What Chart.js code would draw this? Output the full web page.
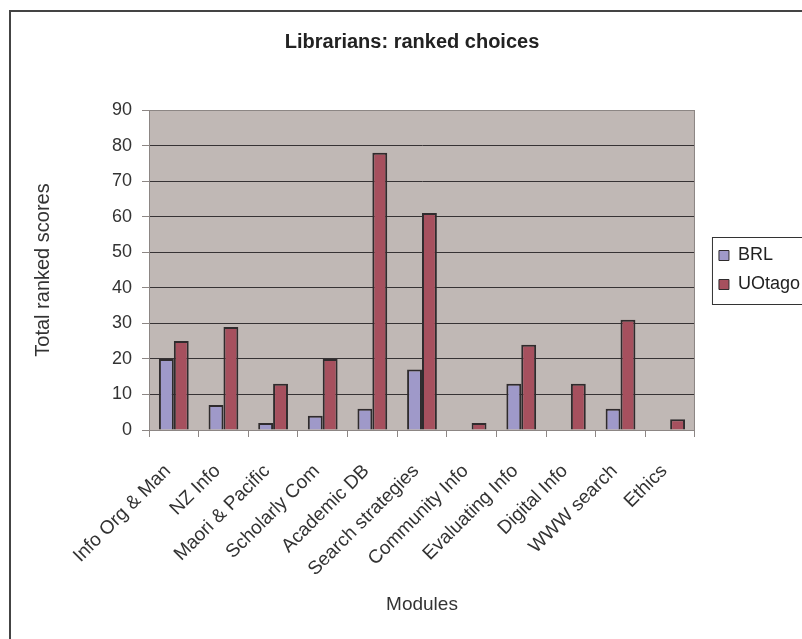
<!DOCTYPE html>
<html>
<head>
<meta charset="utf-8">
<title>Librarians: ranked choices</title>
<script src="https://cdn.jsdelivr.net/npm/chart.js@4.4.1/dist/chart.umd.min.js"></script>
<style>
  html, body { margin: 0; padding: 0; background: #fff; overflow: hidden; }
  #chart { display: block; }
</style>
</head>
<body>
<canvas id="chart" width="840" height="639"></canvas>
<script>
// Modules and the ranked scores given by each library
const modules = [
    'Info Org & Man', 'NZ Info', 'Maori & Pacific', 'Scholarly Com', 'Academic DB',
    'Search strategies', 'Community Info', 'Evaluating Info', 'Digital Info', 'WWW search', 'Ethics'
];
const brlScores   = [20, 7, 2, 4, 6, 17, 0, 13, 0, 6, 0];
const otagoScores = [25, 29, 13, 20, 78, 61, 2, 24, 13, 31, 3];
const seriesNames = ['BRL', 'UOtago'];

// y axis runs 0..90 in steps of 10
const scoreMin  = 0;
const scoreMax  = 90;
const scoreStep = 10;

const FONT = "'Liberation Sans', Arial, Helvetica, sans-serif";
const AXIS_GREY = '#8c8684';
const GRID_DARK = '#363234';

Chart.defaults.font.family = FONT;
Chart.defaults.color = '#333';

// plot background, plot border, legend placement and the outer frame
const chartFrame = {
    id: 'chartFrame',
    beforeDraw(chart) {
        const { ctx, chartArea: a } = chart;
        ctx.save();
        ctx.fillStyle = '#c0b8b5';
        ctx.fillRect(a.left, a.top, a.right - a.left, a.bottom - a.top);
        ctx.restore();
    },
    beforeDatasetsDraw(chart) {
        const { ctx, chartArea: a } = chart;
        ctx.save();
        ctx.strokeStyle = AXIS_GREY;
        ctx.lineWidth = 1;
        ctx.strokeRect(a.left + 0.5, a.top + 0.5, a.right - a.left - 1, a.bottom - a.top);
        ctx.restore();
    },
    afterLayout(chart) {
        // legend sits beside the plot, a little away from it, centred on the plot height
        const lg = chart.legend;
        const a = chart.chartArea;
        lg.left = a.right + 13;
        lg.right = lg.left + lg.width;
        lg.top = a.top;
        lg.bottom = a.bottom;
        lg.height = a.bottom - a.top;
    },
    afterDraw(chart) {
        const { ctx } = chart;
        const lg = chart.legend;
        const boxes = lg.legendHitBoxes;
        ctx.save();
        ctx.strokeStyle = '#333';
        ctx.lineWidth = 1;
        if (boxes.length) {
            const top = boxes[0].top - 10;
            const last = boxes[boxes.length - 1];
            const bottom = last.top + last.height + 10;
            ctx.strokeRect(lg.left + 11 - 7 + 0.5, Math.round(top) + 0.5, 200, Math.round(bottom - top));
        }
        ctx.strokeStyle = '#444';
        ctx.lineWidth = 2;
        ctx.strokeRect(10, 11, 1000, 1000);
        ctx.restore();
    }
};

new Chart(document.getElementById('chart').getContext('2d'), {
    type: 'bar',
    data: {
        labels: modules,
        datasets: [{
            label: seriesNames[0],
            data: brlScores,
            backgroundColor: '#9f99c9',
            borderColor: '#2f2b2d',
            borderWidth: 2
        }, {
            label: seriesNames[1],
            data: otagoScores,
            backgroundColor: '#a6505e',
            borderColor: '#2f2b2d',
            borderWidth: 2
        }]
    },
    options: {
        responsive: false,
        animation: false,
        categoryPercentage: 0.6,
        barPercentage: 1.0,
        layout: { padding: { left: 27, right: 43, top: 0, bottom: 0 } },
        plugins: {
            tooltip: { enabled: false },
            title: {
                display: true,
                text: 'Librarians: ranked choices',
                color: '#222',
                font: { size: 20, weight: 'bold' },
                padding: { top: 30, bottom: 56 }
            },
            legend: {
                position: 'right',
                labels: {
                    boxWidth: 10,
                    boxHeight: 10,
                    padding: 11,
                    color: '#222',
                    font: { size: 18 },
                    generateLabels(chart) {
                        const items = Chart.defaults.plugins.legend.labels.generateLabels(chart);
                        items.forEach(it => { it.lineWidth = 1; });
                        return items;
                    }
                }
            }
        },
        scales: {
            x: {
                grid: {
                    display: true,
                    drawOnChartArea: false,
                    offset: true,
                    tickLength: 7,
                    tickColor: AXIS_GREY
                },
                border: { color: AXIS_GREY },
                ticks: {
                    autoSkip: false,
                    minRotation: 45,
                    maxRotation: 45,
                    padding: 23,
                    labelOffset: -6,
                    color: '#333',
                    font: { size: 19 }
                },
                title: {
                    display: true,
                    text: 'Modules',
                    color: '#333',
                    font: { size: 19 },
                    padding: { top: 0, bottom: 23 }
                },
                afterFit(scale) { scale.height = 209; }
            },
            y: {
                min: scoreMin,
                max: scoreMax,
                grid: {
                    color: ctx => (ctx.tick.value === scoreMin || ctx.tick.value === scoreMax) ? AXIS_GREY : GRID_DARK,
                    tickLength: 7,
                    tickColor: AXIS_GREY
                },
                border: { color: AXIS_GREY },
                ticks: {
                    stepSize: scoreStep,
                    padding: 10,
                    color: '#333',
                    font: { size: 18 }
                },
                title: {
                    display: true,
                    text: 'Total ranked scores',
                    color: '#333',
                    font: { size: 20 },
                    padding: { top: 4, bottom: 0 }
                },
                afterFit(scale) { scale.width = 122; }
            }
        }
    },
    plugins: [chartFrame]
});
</script>
</body>
</html>
